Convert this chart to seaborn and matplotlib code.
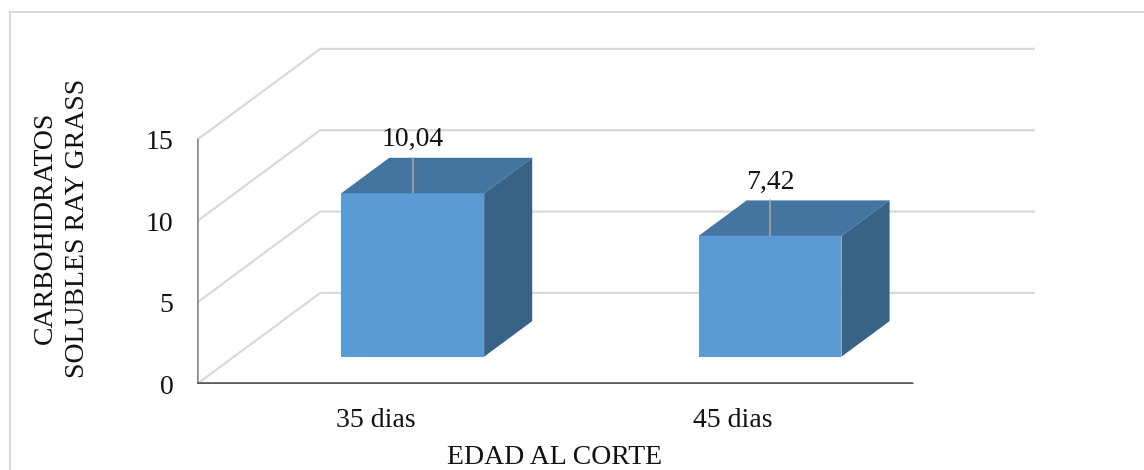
import numpy as np
import pandas as pd
import matplotlib
matplotlib.use("Agg")
import matplotlib.pyplot as plt
import matplotlib.transforms as mtransforms
from matplotlib.patches import Polygon, Rectangle
import seaborn as sns

# Data
categories = ["35 dias", "45 dias"]
values = [10.04, 7.42]
value_ticks = [0, 5, 10, 15]
x_title = "EDAD AL CORTE"
y_title = "CARBOHIDRATOS\nSOLUBLES RAY GRASS"

sns.set_theme(style="white")
plt.rcParams["font.family"] = ["Liberation Serif", "DejaVu Serif"]

FRONT = "#5B9BD5"
TOP = "#4474A0"
SIDE = "#386387"
GRID = "#D9D9D9"
TEXT = "#111111"
FS = 20

# Oblique depth offsets (data units) of the 3-D box
DX, DY = 0.345, 5.6
F0, F1 = 0.30, 0.69          # bar front / back depth fractions
BAR_W = 0.4

fig = plt.figure(figsize=(11.44, 4.70), dpi=100)
W, H = 1144, 470
ax = fig.add_axes([197 / W, (H - 384) / H, 838 / W, 337 / H])

df = pd.DataFrame({"edad": categories, "valor": values})
sns.barplot(data=df, x="edad", y="valor", color=FRONT, width=BAR_W,
            saturation=1, ax=ax, zorder=3)

ax.set_xlim(-0.5, len(categories) - 0.5 + DX)
ax.set_ylim(0, 337 / 16.27)

# Walls: grid lines on the left wall and the back wall
x_left = -0.5
x_right = len(categories) - 0.5
for v in value_ticks:
    ax.plot([x_left, x_left + DX, x_right + DX], [v, v + DY, v + DY],
            color=GRID, lw=1.6, zorder=1, solid_capstyle="butt")

# Front axis lines
ax.plot([x_left, x_left], [0, value_ticks[-1]], color="#8C8C8C", lw=2.6, zorder=2)
ax.plot([x_left, x_right], [0, 0], color="#595959", lw=2.6, zorder=2)

# Turn the flat bars into boxes
for patch, v in zip(ax.patches, values):
    x0 = patch.get_x()
    w = patch.get_width()
    h = patch.get_height()
    ox0, oy0 = F0 * DX, F0 * DY
    ox1, oy1 = F1 * DX, F1 * DY
    patch.set_transform(mtransforms.Affine2D().translate(ox0, oy0) + ax.transData)
    patch.set_edgecolor("none")
    top = Polygon([(x0 + ox0, h + oy0), (x0 + w + ox0, h + oy0),
                   (x0 + w + ox1, h + oy1), (x0 + ox1, h + oy1)],
                  closed=True, facecolor=TOP, edgecolor="none", zorder=3)
    side = Polygon([(x0 + w + ox0, h + oy0), (x0 + w + ox1, h + oy1),
                    (x0 + w + ox1, oy1), (x0 + w + ox0, oy0)],
                   closed=True, facecolor=SIDE, edgecolor="none", zorder=3)
    ax.add_patch(top)
    ax.add_patch(side)

    # Value label with leader line
    cx = x0 + w / 2 + ox0
    ax.plot([cx, cx], [h + oy0, h + oy0 + 2.2], color="#A6A6A6", lw=1.2, zorder=4)
    ax.text(cx, h + oy0 + 3.3, f"{v:.2f}".replace(".", ","), ha="center",
            va="center", fontsize=FS, color=TEXT, zorder=5)

# Ticks and labels
ax.set_yticks(value_ticks)
ax.set_yticklabels([str(t) for t in value_ticks])
ax.set_xticks(range(len(categories)))
ax.set_xticklabels(categories)
ax.tick_params(axis="y", length=0, pad=17, labelsize=FS, labelcolor=TEXT)
ax.tick_params(axis="x", length=0, pad=17, labelsize=FS, labelcolor=TEXT)
for s in ax.spines.values():
    s.set_visible(False)

ax.set_xlabel(x_title, fontsize=FS, color=TEXT)
ax.xaxis.set_label_coords((555 - 197) / 838, (384 - 458) / 337)
ax.xaxis.label.set_va("center")
ax.set_ylabel(y_title, fontsize=FS, color=TEXT, linespacing=1.38)
ax.yaxis.set_label_coords((61 - 197) / 838, (384 - 228) / 337)
ax.yaxis.label.set_va("center")
ax.yaxis.label.set_ha("center")

# Chart-area border
fig.add_artist(Rectangle((10 / W, -0.2), 1.2, (H - 12) / H + 0.2,
                         transform=fig.transFigure, fill=False,
                         edgecolor=GRID, lw=1.5))

fig.savefig("out.png", dpi=100, facecolor="white")
